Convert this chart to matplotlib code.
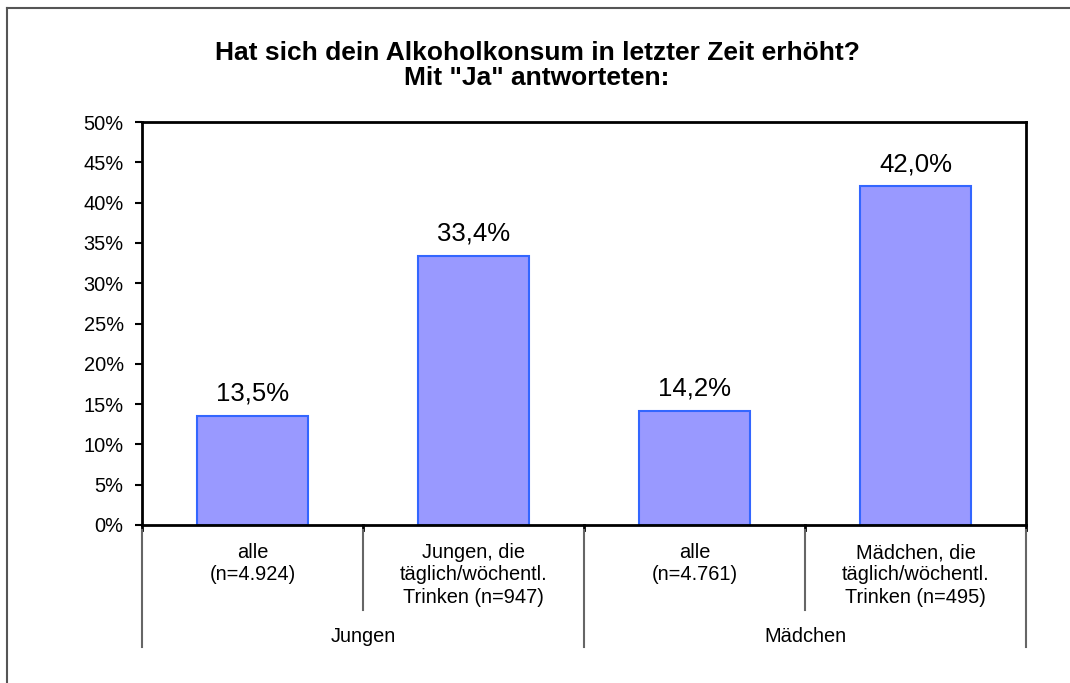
import matplotlib
matplotlib.use('Agg')
import matplotlib.pyplot as plt
from matplotlib.lines import Line2D
from matplotlib.ticker import MultipleLocator, FuncFormatter

plt.rcParams['font.family'] = ['Liberation Sans', 'DejaVu Sans']

# Data
categories = ['alle\n(n=4.924)',
              'Jungen, die\ntäglich/wöchentl.\nTrinken (n=947)',
              'alle\n(n=4.761)',
              'Mädchen, die\ntäglich/wöchentl.\nTrinken (n=495)']
values = [13.5, 33.4, 14.2, 42.0]
value_labels = ['13,5%', '33,4%', '14,2%', '42,0%']
groups = ['Jungen', 'Mädchen']
group_size = 2

title = 'Hat sich dein Alkoholkonsum in letzter Zeit erhöht?\nMit "Ja" antworteten:'

fig = plt.figure(figsize=(10.7, 6.83), dpi=100)
ax = fig.add_axes([142 / 1070, 1 - 525 / 683, (1026 - 142) / 1070, (525 - 122) / 683])

x = list(range(len(values)))
bars = ax.bar(x, values, width=0.5, color='#9999ff', edgecolor='#3366ff', linewidth=1.5)

for xi, v, lab in zip(x, values, value_labels):
    ax.annotate(lab, (xi, v), xytext=(0, 7.5), textcoords='offset points',
                ha='center', va='bottom', fontsize=18.5)

ax.set_xlim(-0.5, len(values) - 0.5)
ax.set_ylim(0, 50)
ax.yaxis.set_major_locator(MultipleLocator(5))
ax.yaxis.set_major_formatter(FuncFormatter(lambda v, p: f'{int(v)}%'))
ax.tick_params(axis='y', labelsize=14.4, direction='out', length=5, width=1.5, pad=8.2)
ax.set_xticks([])
for s in ax.spines.values():
    s.set_linewidth(2)
    s.set_color('black')

# category axis below the plot
trans = ax.get_xaxis_transform()
for i, lab in enumerate(categories):
    ax.text(i, -0.045, lab, transform=trans, ha='center', va='top',
            fontsize=14.4, linespacing=1.22)

for b in range(len(values) + 1):
    xb = b - 0.5
    outer = (b % group_size == 0)
    y_end = -0.303 if outer else -0.211
    ax.plot([xb, xb], [0, -0.013], transform=trans, color='black', lw=2, clip_on=False)
    ax.plot([xb, xb], [-0.013, y_end], transform=trans, color='#666666', lw=1.5, clip_on=False)

for g, name in enumerate(groups):
    xc = g * group_size + (group_size - 1) / 2
    ax.text(xc, -0.276, name, transform=trans, ha='center', va='center', fontsize=14.4)

fig.text(537 / 1070, 1 - 65.5 / 683, title, ha='center', va='center',
         fontsize=19, fontweight='bold', linespacing=1.1)

# outer chart border (left and top visible)
fig.add_artist(Line2D([7 / 1070, 7 / 1070], [1 - 8 / 683, 0], transform=fig.transFigure,
                      color='#555555', lw=1.5))
fig.add_artist(Line2D([7 / 1070, 1], [1 - 8 / 683, 1 - 8 / 683], transform=fig.transFigure,
                      color='#555555', lw=1.5))

fig.savefig('out.png', dpi=100)
